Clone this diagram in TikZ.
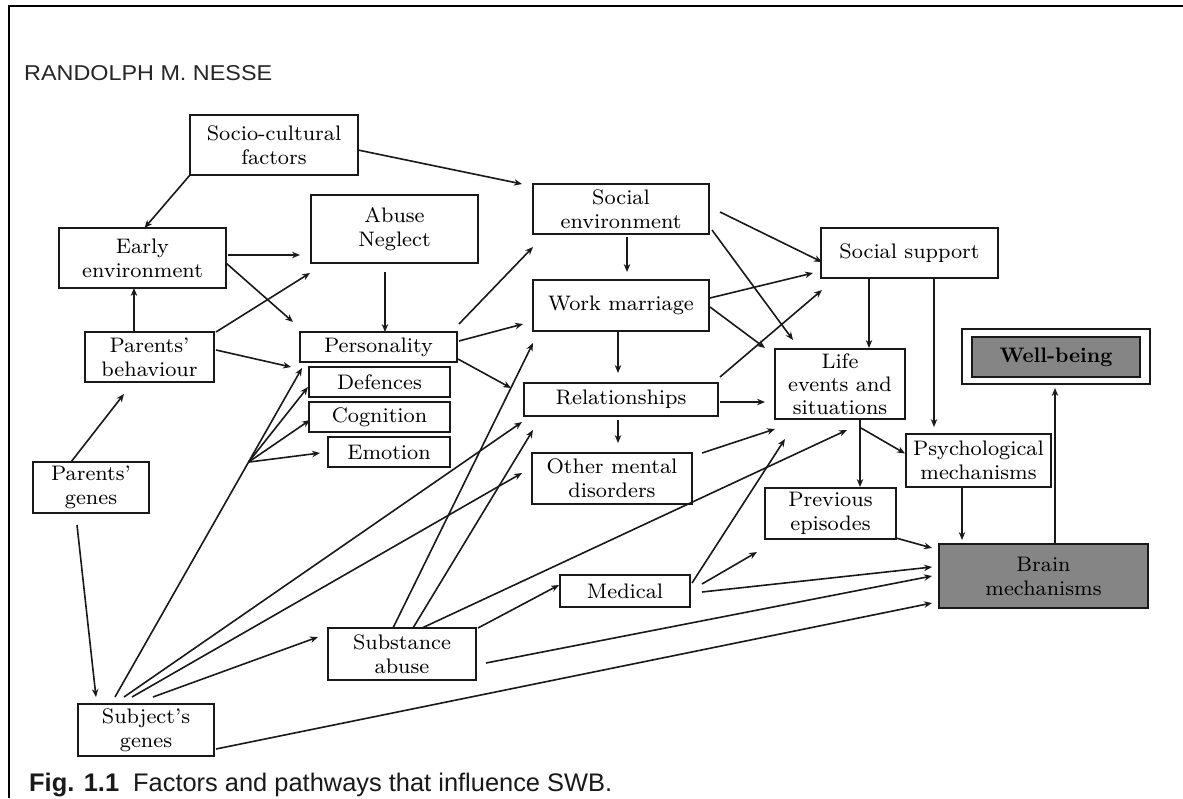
\documentclass[tikz,border=0pt]{standalone}
\usepackage{fontspec}
\usepackage{graphicx}
\newfontfamily\arialfont{Liberation Sans}
\newfontfamily\boxfont{lmroman8-regular.otf}[BoldFont=lmroman10-bold.otf, Ligatures=TeX]
\usetikzlibrary{arrows.meta,calc}
\begin{document}
\begin{tikzpicture}[x=1pt,y=-1pt,
  box/.style={draw=black!90, line width=2pt, inner sep=0pt, outer sep=0pt,
    align=center, font=\boxfont\fontsize{21}{24}\selectfont, text=black},
  arr/.style={line width=1.6pt, draw=black!90, -{Stealth[length=8pt,width=6.5pt]}},
  shade/.style={fill=black!48}]
\useasboundingbox (0,0) rectangle (1183,798);
\fill[white] (0,0) rectangle (1183,798);

% page frame (top rule and left rule)
\draw[line width=2.6pt] (1183,6) -- (9,6) -- (9,798);

% running head and caption
\node[anchor=base west, inner sep=0pt, text=black!85] (title) at (24,80)
  {\resizebox{248pt}{15pt}{\arialfont RANDOLPH M. NESSE}};
\node[anchor=base west, inner sep=0pt, text=black!90] (caption) at (29,791)
  {\resizebox{583pt}{!}{\arialfont\fontsize{22}{24}\selectfont\textbf{Fig. 1.1}\hspace{0.55em}Factors and pathways that influence SWB.}};

% boxes
\node[box, minimum width=168pt, minimum height=60pt] (socio)   at (274,145)    {Socio-cultural\\factors};
\node[box, minimum width=167pt, minimum height=60pt] (early)   at (142.5,258)  {Early\\environment};
\node[box, minimum width=167pt, minimum height=68pt] (abuse)   at (394.5,229)  {Abuse\\Neglect};
\node[box, minimum width=176pt, minimum height=50pt] (socenv)  at (621,209)    {Social\\environment};
\node[box, minimum width=177pt, minimum height=50pt] (support) at (909.5,253)  {Social support};
\node[box, minimum width=176pt, minimum height=51pt] (work)    at (621,305.5)  {Work marriage};
\node[box, minimum width=129pt, minimum height=50pt] (parbeh)  at (149.5,357)  {Parents’\\behaviour};
\node[box, minimum width=157pt, minimum height=30pt] (person)  at (378.5,347)  {Personality};
\node[box, minimum width=141pt, minimum height=30pt] (def)     at (379.5,382)  {Defences};
\node[box, minimum width=141pt, minimum height=30pt] (cog)     at (379.5,417)  {Cognition};
\node[box, minimum width=122pt, minimum height=30pt] (emo)     at (389,452)    {Emotion};
\node[box, minimum width=194pt, minimum height=33pt] (rel)     at (621,399.5)  {Relationships};
\node[box, minimum width=130pt, minimum height=70pt, font=\boxfont\fontsize{21}{23}\selectfont] (life) at (840,384) {Life\\events and\\situations};
\node[box, minimum width=145pt, minimum height=53pt] (psych)   at (978.5,460.5) {Psychological\\mechanisms};
\node[box, minimum width=116pt, minimum height=51pt] (pargenes) at (91,487.5)  {Parents’\\genes};
\node[box, minimum width=160pt, minimum height=51pt] (other)   at (612,478.5)  {Other mental\\disorders};
\node[box, minimum width=131pt, minimum height=51pt] (prev)    at (830.5,513.5) {Previous\\episodes};
\node[box, shade, minimum width=209pt, minimum height=64pt] (brain) at (1043.5,576) {Brain\\mechanisms};
\node[box, minimum width=130pt, minimum height=32pt] (medical) at (625,591)    {Medical};
\node[box, minimum width=148pt, minimum height=52pt] (subst)   at (402,654)    {Substance\\abuse};
\node[box, minimum width=136pt, minimum height=52pt] (subj)    at (146,730)    {Subject’s\\genes};
\node[box, line width=1.6pt, minimum width=188pt, minimum height=55pt] (wellout) at (1056,356.5) {};
\node[box, shade, minimum width=168pt, minimum height=40pt, font=\boxfont\fontsize{21}{24}\selectfont\bfseries] (wellin) at (1056,357) {Well-being};

% upper-left pathways
\draw[arr] ($(socio.east)+(0,5)$) -- ($(socenv.north west)+(-11,0)$);
\draw[arr] (socio.south west) -- ($(early.north)+(2,0)$);
\draw[arr] ($(early.east)+(2,-3)$) -- ($(abuse.south west)+(-11,-8)$);
\draw[arr] ($(early.east)+(0,5)$) -- ($(person.north west)+(-7,-10)$);
\draw[arr] ($(parbeh.north)+(-15.5,0)$) -- ($(early.south)+(-8.5,0)$);
\draw[arr] ($(parbeh.north east)+(2,0)$) -- ($(abuse.south west)+(-1,10)$);
\draw[arr] ($(parbeh.east)+(2,-7)$) -- ($(person.south west)+(-9,5)$);
\draw[arr] ($(abuse.south)+(-9.5,9)$) -- ($(person.north)+(6.5,0)$);
\draw[arr] ($(pargenes.north)+(-20,0)$) -- ($(parbeh.south)+(-25.5,12)$);
\draw[arr] ($(pargenes.south)+(-14,12)$) -- ($(subj.north west)+(18,-7)$);

% personality to the social column
\draw[arr] ($(person.north east)+(2,-8)$) -- ($(socenv.south west)+(0,13)$);
\draw[arr] ($(person.east)+(2,-6)$) -- ($(work.south west)+(-10,-7)$);
\draw[arr] ($(person.south east)+(1,-3)$) -- ($(rel.north west)+(-13,5)$);

% social column
\draw[arr] ($(socenv.south)+(6,3)$) -- ($(work.north)+(6,-8)$);
\draw[arr] ($(work.south)+(-3,1)$) -- ($(rel.north)+(-3,-10)$);
\draw[arr] ($(rel.south)+(-3,4)$) -- ($(other.north)+(6,-10)$);
\draw[arr] ($(socenv.east)+(11,3)$) -- ($(support.south west)+(1,-16)$);
\draw[arr] ($(socenv.south east)+(3,-4)$) -- ($(life.north west)+(18,-9)$);
\draw[arr] ($(work.east)+(1,-7.5)$) -- ($(support.south west)+(-8,-5)$);
\draw[arr] ($(work.east)+(1,1.5)$) -- ($(life.north west)+(-10,-1)$);
\draw[arr] ($(rel.north east)+(2,-6)$) -- ($(support.south west)+(1,12)$);
\draw[arr] ($(rel.east)+(2,2.5)$) -- ($(life.west)+(-10,18)$);
\draw[arr] ($(other.north east)+(10,0)$) -- ($(life.south west)+(0,10)$);

% right-hand mechanisms
\draw[arr] ($(support.south)+(-40.5,0)$) -- ($(life.north)+(29,-1)$);
\draw[arr] ($(support.south)+(24.5,0)$) -- ($(psych.north west)+(28,-7)$);
\draw[arr] ($(life.south)+(20,0)$) -- ($(prev.north)+(29.5,-1)$);
\draw[arr] ($(life.south)+(21,9)$) -- ($(psych.west)+(-1,-7)$);
\draw[arr] ($(psych.south)+(-16.5,0)$) -- ($(brain.north)+(-81.5,-4)$);
\draw[arr] ($(prev.south east)+(0,-1)$) -- ($(brain.north west)+(-7,4)$);
\draw[arr] ($(brain.north)+(11.5,0)$) -- ($(wellout.south)+(-1,4)$);

% medical and substance abuse
\draw[arr] ($(medical.north east)+(2,8)$) -- ($(life.south west)+(10,20)$);
\draw[arr] ($(medical.east)+(12,-7)$) -- ($(prev.south west)+(-8,13)$);
\draw[arr] ($(medical.east)+(12,1)$) -- ($(brain.west)+(-7,-9)$);
\draw[arr] ($(subst.east)+(10,9)$) -- ($(brain.west)+(-7,0)$);
\draw[arr] ($(subst.north east)+(2,0)$) -- ($(medical.west)+(-1,-6)$);
\draw[arr] ($(subst.north)+(-9,0)$) -- ($(work.south west)+(0,12)$);
\draw[arr] ($(subst.north)+(11,0)$) -- ($(rel.south west)+(9,14)$);
\draw[arr] ($(subst.north)+(20,0)$) -- ($(life.south)+(7,11)$);

% subject's genes
\draw[arr] ($(subj.north)+(-31,-7)$) -- ($(person.south west)+(2,6)$) coordinate[pos=0.714] (fan);
\draw[arr] (fan) -- ($(def.west)+(-1,5)$);
\draw[arr] (fan) -- ($(cog.west)+(1,3)$);
\draw[arr] (fan) -- ($(emo.west)+(-8,1)$);
\draw[arr] ($(subj.north)+(-22,-7)$) -- ($(rel.south west)+(-2,6)$);
\draw[arr] ($(subj.north)+(-14,-7)$) -- ($(other.west)+(-10,-5.5)$);
\draw[arr] ($(subj.north)+(7,-7)$) -- ($(subst.west)+(-10,-17)$);
\draw[arr] ($(subj.east)+(2,19)$) -- ($(brain.west)+(-7,27)$);
\end{tikzpicture}
\end{document}
